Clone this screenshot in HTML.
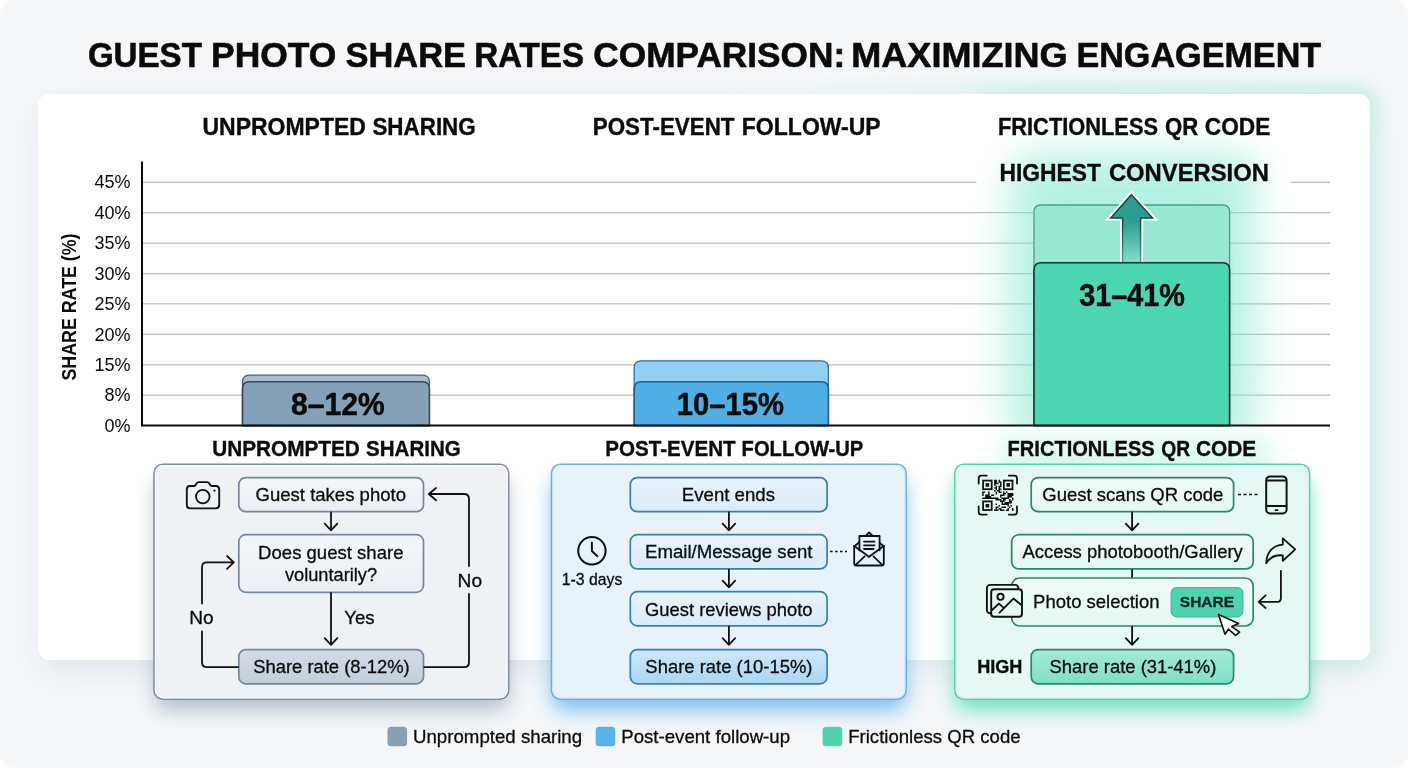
<!DOCTYPE html>
<html lang="en"><head><meta charset="utf-8"><title>Guest Photo Share Rates Comparison</title>
<style>
html,body{margin:0;padding:0;background:#f4f6f8;}
body{width:1408px;height:768px;overflow:hidden;font-family:"Liberation Sans", sans-serif;}
svg{display:block;position:absolute;left:0;top:0;will-change:transform;}
text{font-family:"Liberation Sans", sans-serif;}
</style></head><body>
<svg width="1408" height="768" viewBox="0 0 1408 768">
<defs>
<filter id="blur6" x="-20%" y="-20%" width="140%" height="140%"><feGaussianBlur stdDeviation="6"/></filter>
<filter id="blur10" x="-30%" y="-30%" width="160%" height="160%"><feGaussianBlur stdDeviation="10"/></filter>
<filter id="blur16" x="-40%" y="-40%" width="180%" height="180%"><feGaussianBlur stdDeviation="16"/></filter>
<filter id="blur24" x="-50%" y="-50%" width="200%" height="200%"><feGaussianBlur stdDeviation="24"/></filter>
<linearGradient id="gArrow" gradientUnits="userSpaceOnUse" x1="0" y1="194" x2="0" y2="262"><stop offset="0" stop-color="#2a9d8f"/><stop offset="0.4" stop-color="#2a9d8f"/><stop offset="1" stop-color="#86dcc8"/></linearGradient>
<linearGradient id="gArrowS" gradientUnits="userSpaceOnUse" x1="0" y1="194" x2="0" y2="262"><stop offset="0" stop-color="#0d3530"/><stop offset="0.45" stop-color="#114a42"/><stop offset="1" stop-color="#3f9f8d"/></linearGradient>
<linearGradient id="gTopGlow" x1="0" y1="0" x2="1" y2="0"><stop offset="0" stop-color="#a9ecd9" stop-opacity="0"/><stop offset="0.55" stop-color="#a9ecd9" stop-opacity="0.45"/><stop offset="1" stop-color="#a9ecd9" stop-opacity="0.5"/></linearGradient>
<linearGradient id="gB1" x1="0" y1="0" x2="0" y2="1"><stop offset="0" stop-color="#d3dbe5"/><stop offset="1" stop-color="#c3cdd9"/></linearGradient>
<linearGradient id="gB2" x1="0" y1="0" x2="0" y2="1"><stop offset="0" stop-color="#cfe7f8"/><stop offset="1" stop-color="#a9d6f3"/></linearGradient>
<linearGradient id="gB3" x1="0" y1="0" x2="0" y2="1"><stop offset="0" stop-color="#a5ead6"/><stop offset="1" stop-color="#7fdfc6"/></linearGradient>
<linearGradient id="gBox2" x1="0" y1="0" x2="0" y2="1"><stop offset="0" stop-color="#e9f3fc"/><stop offset="1" stop-color="#d9ebf9"/></linearGradient>
<linearGradient id="gBox3" x1="0" y1="0" x2="0" y2="1"><stop offset="0" stop-color="#f1fbf8"/><stop offset="1" stop-color="#e4f7f1"/></linearGradient>
<linearGradient id="gBox1" x1="0" y1="0" x2="0" y2="1"><stop offset="0" stop-color="#f3f6f9"/><stop offset="1" stop-color="#ebeff4"/></linearGradient>
</defs>

<rect x="0" y="0" width="1408" height="768" fill="#fdfdfe"/>
<rect x="0" y="0" width="1408" height="768" rx="15" fill="#f4f6f8"/>
<rect x="44" y="112" width="1320" height="556" rx="12" fill="#b4c2d6" opacity="0.36" filter="url(#blur16)"/>
<rect x="980" y="92" width="396" height="572" rx="14" fill="#a9ecd9" opacity="0.5" filter="url(#blur10)"/>
<rect x="700" y="88" width="672" height="40" rx="14" fill="url(#gTopGlow)" filter="url(#blur10)"/>
<rect x="38" y="94" width="1332" height="566" rx="11" fill="#ffffff"/>
<text y="67.1" font-size="35" font-weight="bold" fill="#0b0b0b" stroke="#0b0b0b" stroke-width="0.6" stroke-linejoin="round"><tspan x="87.88" textLength="114.02" lengthAdjust="spacingAndGlyphs">GUEST</tspan> <tspan x="211.1" textLength="125.34" lengthAdjust="spacingAndGlyphs">PHOTO</tspan> <tspan x="345.54" textLength="120.53" lengthAdjust="spacingAndGlyphs">SHARE</tspan> <tspan x="474.14" textLength="109.98" lengthAdjust="spacingAndGlyphs">RATES</tspan> <tspan x="593.39" textLength="251.79" lengthAdjust="spacingAndGlyphs">COMPARISON:</tspan> <tspan x="851.26" textLength="216.33" lengthAdjust="spacingAndGlyphs">MAXIMIZING</tspan> <tspan x="1076.38" textLength="244.82" lengthAdjust="spacingAndGlyphs">ENGAGEMENT</tspan></text>
<path d="M143 182.3H976.5M1291 182.3H1330" stroke="#bcbec1" stroke-width="1.25" fill="none"/>
<path d="M143 212.7H1330" stroke="#bcbec1" stroke-width="1.25" fill="none"/>
<path d="M143 243.1H1330" stroke="#bcbec1" stroke-width="1.25" fill="none"/>
<path d="M143 273.5H1330" stroke="#bcbec1" stroke-width="1.25" fill="none"/>
<path d="M143 303.9H1330" stroke="#bcbec1" stroke-width="1.25" fill="none"/>
<path d="M143 334.4H1330" stroke="#bcbec1" stroke-width="1.25" fill="none"/>
<path d="M143 364.8H1330" stroke="#bcbec1" stroke-width="1.25" fill="none"/>
<path d="M143 395.2H1330" stroke="#bcbec1" stroke-width="1.25" fill="none"/>
<clipPath id="chartclip"><rect x="143.2" y="96" width="1226" height="328.4"/></clipPath>
<g clip-path="url(#chartclip)">
<rect x="1010" y="178" width="243" height="270" rx="36" fill="#86e8cf" opacity="0.50" filter="url(#blur24)"/>
<rect x="1016" y="215" width="232" height="230" rx="16" fill="#86e8cf" opacity="0.28" filter="url(#blur16)"/>
<rect x="1012" y="150" width="244" height="60" rx="20" fill="#86e8cf" opacity="0.42" filter="url(#blur16)"/>
</g>
<text y="134.9" font-size="23" font-weight="bold" fill="#0b0b0b" stroke="#0b0b0b" stroke-width="0.35" stroke-linejoin="round"><tspan x="202.52" textLength="163.33" lengthAdjust="spacingAndGlyphs">UNPROMPTED</tspan> <tspan x="372.44" textLength="103.25" lengthAdjust="spacingAndGlyphs">SHARING</tspan></text>
<text y="134.9" font-size="23" font-weight="bold" fill="#0b0b0b" stroke="#0b0b0b" stroke-width="0.35" stroke-linejoin="round"><tspan x="592.75" textLength="141.79" lengthAdjust="spacingAndGlyphs">POST-EVENT</tspan> <tspan x="741.8" textLength="138.93" lengthAdjust="spacingAndGlyphs">FOLLOW-UP</tspan></text>
<text y="134.8" font-size="23" font-weight="bold" fill="#0b0b0b" stroke="#0b0b0b" stroke-width="0.35" stroke-linejoin="round"><tspan x="997.98" textLength="160.03" lengthAdjust="spacingAndGlyphs">FRICTIONLESS</tspan> <tspan x="1165.11" textLength="33.27" lengthAdjust="spacingAndGlyphs">QR</tspan> <tspan x="1204.79" textLength="65.55" lengthAdjust="spacingAndGlyphs">CODE</tspan></text>
<text y="181.2" font-size="24.6" font-weight="bold" fill="#0b0b0b" stroke="#0b0b0b" stroke-width="0.35" stroke-linejoin="round"><tspan x="999.42" textLength="101.42" lengthAdjust="spacingAndGlyphs">HIGHEST</tspan> <tspan x="1108.95" textLength="159.95" lengthAdjust="spacingAndGlyphs">CONVERSION</tspan></text>
<text x="130.6" y="188.4" font-size="18" font-weight="normal" text-anchor="end" fill="#0b0b0b">45%</text>
<text x="130.6" y="218.8" font-size="18" font-weight="normal" text-anchor="end" fill="#0b0b0b">40%</text>
<text x="130.6" y="249.2" font-size="18" font-weight="normal" text-anchor="end" fill="#0b0b0b">35%</text>
<text x="130.6" y="279.6" font-size="18" font-weight="normal" text-anchor="end" fill="#0b0b0b">30%</text>
<text x="130.6" y="310.0" font-size="18" font-weight="normal" text-anchor="end" fill="#0b0b0b">25%</text>
<text x="130.6" y="340.5" font-size="18" font-weight="normal" text-anchor="end" fill="#0b0b0b">20%</text>
<text x="130.6" y="370.9" font-size="18" font-weight="normal" text-anchor="end" fill="#0b0b0b">15%</text>
<text x="130.6" y="401.3" font-size="18" font-weight="normal" text-anchor="end" fill="#0b0b0b">8%</text>
<text x="130.6" y="431.7" font-size="18" font-weight="normal" text-anchor="end" fill="#0b0b0b">0%</text>
<text transform="translate(76.2 307) rotate(-90)" font-size="20.4" font-weight="bold" text-anchor="middle" textLength="147" lengthAdjust="spacingAndGlyphs" fill="#0b0b0b">SHARE RATE (%)</text>
<path d="M242.5 425.6V382.2Q242.5 375.2 249.5 375.2H422.4Q429.4 375.2 429.4 382.2V425.6Z" fill="#a9bfd1" stroke="#4a6277" stroke-width="1.3" stroke-linejoin="round"/>
<path d="M242.5 425.6V388.8Q242.5 381.8 249.5 381.8H422.4Q429.4 381.8 429.4 388.8V425.6Z" fill="#85a1b8" stroke="#324a5c" stroke-width="1.6" stroke-linejoin="round"/>
<path d="M634.2 425.6V367.8Q634.2 360.8 641.2 360.8H821.4Q828.4 360.8 828.4 367.8V425.6Z" fill="#93d0f0" stroke="#2a70a4" stroke-width="1.3" stroke-linejoin="round"/>
<path d="M634.2 425.6V388.7Q634.2 381.7 641.2 381.7H821.4Q828.4 381.7 828.4 388.7V425.6Z" fill="#50afe5" stroke="#1f5f90" stroke-width="1.6" stroke-linejoin="round"/>
<path d="M1034 425.6V212Q1034 205 1041 205H1222.6Q1229.6 205 1229.6 212V425.6Z" fill="#97e7d1" stroke="#48a08c" stroke-width="1.3" stroke-linejoin="round"/>
<path d="M1131.4 194.6L1152.6 218H1140.6V270H1122.6V218H1110.6Z" fill="#ffffff" stroke="#ffffff" stroke-width="5.2" stroke-linejoin="miter" stroke-miterlimit="6"/>
<path d="M1131.4 194.6L1152.6 218H1140.6V270H1122.6V218H1110.6Z" fill="url(#gArrow)" stroke="url(#gArrowS)" stroke-width="1.4" stroke-linejoin="miter" stroke-miterlimit="6"/>
<path d="M1034 425.6V269.7Q1034 262.7 1041 262.7H1222.6Q1229.6 262.7 1229.6 269.7V425.6Z" fill="#4dd6b2" stroke="#17342d" stroke-width="1.6" stroke-linejoin="round"/>
<text y="414.8" font-size="32" font-weight="bold" fill="#0b0b0b" stroke="#0b0b0b" stroke-width="0.5" stroke-linejoin="round"><tspan x="291.1" textLength="93.63" lengthAdjust="spacingAndGlyphs">8–12%</tspan></text>
<text y="415" font-size="32" font-weight="bold" fill="#0b0b0b" stroke="#0b0b0b" stroke-width="0.5" stroke-linejoin="round"><tspan x="676.75" textLength="107.26" lengthAdjust="spacingAndGlyphs">10–15%</tspan></text>
<text y="306" font-size="32" font-weight="bold" fill="#0b0b0b" stroke="#0b0b0b" stroke-width="0.5" stroke-linejoin="round"><tspan x="1079.22" textLength="105.57" lengthAdjust="spacingAndGlyphs">31–41%</tspan></text>
<path d="M142 161.5V425.6H1330" stroke="#0b0b0b" stroke-width="2" fill="none" stroke-linejoin="miter"/>
<rect x="1000" y="436" width="272" height="40" rx="14" fill="#8fe9d2" opacity="0.30" filter="url(#blur10)"/>
<text y="455.9" font-size="21.2" font-weight="bold" fill="#0b0b0b" stroke="#0b0b0b" stroke-width="0.35" stroke-linejoin="round"><tspan x="212.15" textLength="147.72" lengthAdjust="spacingAndGlyphs">UNPROMPTED</tspan> <tspan x="366.09" textLength="94.6" lengthAdjust="spacingAndGlyphs">SHARING</tspan></text>
<text y="455.9" font-size="21.2" font-weight="bold" fill="#0b0b0b" stroke="#0b0b0b" stroke-width="0.35" stroke-linejoin="round"><tspan x="605.36" textLength="130.26" lengthAdjust="spacingAndGlyphs">POST-EVENT</tspan> <tspan x="741.59" textLength="121.76" lengthAdjust="spacingAndGlyphs">FOLLOW-UP</tspan></text>
<text y="455.9" font-size="21.2" font-weight="bold" fill="#0b0b0b" stroke="#0b0b0b" stroke-width="0.35" stroke-linejoin="round"><tspan x="1007.6" textLength="147.15" lengthAdjust="spacingAndGlyphs">FRICTIONLESS</tspan> <tspan x="1161.23" textLength="28.9" lengthAdjust="spacingAndGlyphs">QR</tspan> <tspan x="1195.97" textLength="60.31" lengthAdjust="spacingAndGlyphs">CODE</tspan></text>
<rect x="155" y="478" width="352.7" height="232" rx="10" fill="#8a9ab0" opacity="0.6" filter="url(#blur10)"/>
<rect x="154" y="464.2" width="354.7" height="235" rx="9" fill="#eff2f5" stroke="#7f8da0" stroke-width="1.6"/>
<rect x="155.5" y="465.7" width="351.7" height="232" rx="7.6" fill="none" stroke="#f9fbfd" stroke-width="1.2" opacity="0.9"/>
<rect x="552.5" y="478" width="352.7" height="232" rx="10" fill="#64b6ee" opacity="0.85" filter="url(#blur10)"/>
<rect x="551.5" y="464.2" width="354.7" height="235" rx="9" fill="#e7f2fb" stroke="#72add8" stroke-width="1.6"/>
<rect x="553.0" y="465.7" width="351.7" height="232" rx="7.6" fill="none" stroke="#d3ecfa" stroke-width="1.2" opacity="0.9"/>
<rect x="955.8" y="478" width="352.8" height="232" rx="10" fill="#57dbb6" opacity="0.85" filter="url(#blur10)"/>
<rect x="954.8" y="464.2" width="354.8" height="235" rx="9" fill="#e6f8f3" stroke="#5ccfaf" stroke-width="1.6"/>
<rect x="956.3" y="465.7" width="351.8" height="232" rx="7.6" fill="none" stroke="#d2f6ec" stroke-width="1.2" opacity="0.9"/>
<rect x="238.8" y="477.6" width="184.7" height="34.1" rx="7" fill="url(#gBox1)" stroke="#76869b" stroke-width="1.7"/>
<rect x="238.8" y="534.7" width="184.7" height="57.6" rx="7" fill="url(#gBox1)" stroke="#76869b" stroke-width="1.7"/>
<rect x="238.8" y="649.6" width="184.7" height="34.2" rx="7" fill="url(#gB1)" stroke="#76869b" stroke-width="1.7"/>
<path d="M331 512.5V530.3M324.7 523.7L331 530.3L337.3 523.7" stroke="#111111" stroke-width="1.8" fill="none" stroke-linecap="round" stroke-linejoin="round"/>
<path d="M331 593V644.8M324.7 638.2L331 644.8L337.3 638.2" stroke="#111111" stroke-width="1.8" fill="none" stroke-linecap="round" stroke-linejoin="round"/>
<path d="M238 667.2H207Q202 667.2 202 662.2V631.5M202 603.5V567.4Q202 562.4 207 562.4H233.5M227 556L233.8 562.4L227 568.8" stroke="#111111" stroke-width="1.8" fill="none" stroke-linecap="round" stroke-linejoin="round"/>
<path d="M424.3 667.2H464Q469 667.2 469 662.2V594M469 566V499Q469 494 464 494H429M436 488L428.8 494L436 500.2" stroke="#111111" stroke-width="1.8" fill="none" stroke-linecap="round" stroke-linejoin="round"/>
<text y="500.9" font-size="19" font-weight="normal" fill="#0b0b0b" stroke="#0b0b0b" stroke-width="0.3" stroke-linejoin="round"><tspan x="255.57" textLength="150.39" lengthAdjust="spacingAndGlyphs">Guest takes photo</tspan></text>
<text y="559.2" font-size="19" font-weight="normal" fill="#0b0b0b" stroke="#0b0b0b" stroke-width="0.3" stroke-linejoin="round"><tspan x="258.12" textLength="145.35" lengthAdjust="spacingAndGlyphs">Does guest share</tspan></text>
<text y="581.4" font-size="19" font-weight="normal" fill="#0b0b0b" stroke="#0b0b0b" stroke-width="0.3" stroke-linejoin="round"><tspan x="284.9" textLength="92.16" lengthAdjust="spacingAndGlyphs">voluntarily?</tspan></text>
<text y="673" font-size="19" font-weight="normal" fill="#0b0b0b" stroke="#0b0b0b" stroke-width="0.3" stroke-linejoin="round"><tspan x="253.17" textLength="156.5" lengthAdjust="spacingAndGlyphs">Share rate (8-12%)</tspan></text>
<text y="624.2" font-size="19" font-weight="normal" fill="#0b0b0b" stroke="#0b0b0b" stroke-width="0.3" stroke-linejoin="round"><tspan x="344.23" textLength="30.43" lengthAdjust="spacingAndGlyphs">Yes</tspan></text>
<text y="624.2" font-size="19" font-weight="normal" fill="#0b0b0b" stroke="#0b0b0b" stroke-width="0.3" stroke-linejoin="round"><tspan x="189.17" textLength="24.41" lengthAdjust="spacingAndGlyphs">No</tspan></text>
<text y="586.5" font-size="19" font-weight="normal" fill="#0b0b0b" stroke="#0b0b0b" stroke-width="0.3" stroke-linejoin="round"><tspan x="457.57" textLength="24.52" lengthAdjust="spacingAndGlyphs">No</tspan></text>
<g stroke="#111111" stroke-width="1.85" fill="none" stroke-linejoin="round" stroke-linecap="round"><path d="M190.2 486H193.8Q195.2 486 195.8 484.7L196.6 483.3Q197.2 482.1 198.8 482.1H207Q208.6 482.1 209.2 483.3L210 484.7Q210.6 486 212 486H215.8Q219.2 486 219.2 489.4V504.9Q219.2 508.3 215.8 508.3H190.2Q186.8 508.3 186.8 504.9V489.4Q186.8 486 190.2 486Z"/><circle cx="202.8" cy="496.6" r="6.8"/></g>
<circle cx="214.5" cy="490.6" r="1.15" fill="#111111"/>
<rect x="630.3" y="477.6" width="196.8" height="34.1" rx="7" fill="url(#gBox2)" stroke="#357fb6" stroke-width="1.7"/>
<rect x="630.3" y="534.7" width="196.8" height="34.2" rx="7" fill="url(#gBox2)" stroke="#357fb6" stroke-width="1.7"/>
<rect x="630.3" y="591.7" width="196.8" height="34.1" rx="7" fill="url(#gBox2)" stroke="#357fb6" stroke-width="1.7"/>
<rect x="630.3" y="649.6" width="196.8" height="34.2" rx="7" fill="url(#gB2)" stroke="#357fb6" stroke-width="1.7"/>
<path d="M728.9 512.5V530.3M722.6 523.7L728.9 530.3L735.1999999999999 523.7" stroke="#111111" stroke-width="1.8" fill="none" stroke-linecap="round" stroke-linejoin="round"/>
<path d="M728.9 569.7V587.3M722.6 580.7L728.9 587.3L735.1999999999999 580.7" stroke="#111111" stroke-width="1.8" fill="none" stroke-linecap="round" stroke-linejoin="round"/>
<path d="M728.9 626.6V644.8M722.6 638.2L728.9 644.8L735.1999999999999 638.2" stroke="#111111" stroke-width="1.8" fill="none" stroke-linecap="round" stroke-linejoin="round"/>
<text y="500.8" font-size="19" font-weight="normal" fill="#0b0b0b" stroke="#0b0b0b" stroke-width="0.3" stroke-linejoin="round"><tspan x="681.81" textLength="93.24" lengthAdjust="spacingAndGlyphs">Event ends</tspan></text>
<text y="557.8" font-size="19" font-weight="normal" fill="#0b0b0b" stroke="#0b0b0b" stroke-width="0.3" stroke-linejoin="round"><tspan x="645.01" textLength="167.54" lengthAdjust="spacingAndGlyphs">Email/Message sent</tspan></text>
<text y="615.6" font-size="19" font-weight="normal" fill="#0b0b0b" stroke="#0b0b0b" stroke-width="0.3" stroke-linejoin="round"><tspan x="645.08" textLength="167.47" lengthAdjust="spacingAndGlyphs">Guest reviews photo</tspan></text>
<text y="673" font-size="19" font-weight="normal" fill="#0b0b0b" stroke="#0b0b0b" stroke-width="0.3" stroke-linejoin="round"><tspan x="645.37" textLength="167.1" lengthAdjust="spacingAndGlyphs">Share rate (10-15%)</tspan></text>
<g stroke="#111111" stroke-width="2" fill="none" stroke-linecap="round" stroke-linejoin="round"><circle cx="591.9" cy="550.8" r="13.7"/><path d="M591.9 542.8V551L597.4 556.3"/></g>
<text y="584.8" font-size="16.3" font-weight="normal" fill="#0b0b0b" stroke="#0b0b0b" stroke-width="0.3" stroke-linejoin="round"><tspan x="561.71" textLength="60.64" lengthAdjust="spacingAndGlyphs">1-3 days</tspan></text>
<path d="M830 551.4H847" stroke="#111111" stroke-width="1.5" stroke-dasharray="2.6 2.4" fill="none"/>
<g stroke="#111111" stroke-width="1.8" fill="none" stroke-linejoin="round" stroke-linecap="round"><path d="M854.2 546.5L859.4 542M883.8 546.5L879.6 542.7M865.8 535.6L869.1 532.5L872.4 535.6"/><path d="M854.2 546V563.6Q854.2 565.5 856.1 565.5H881.9Q883.8 565.5 883.8 563.6V546"/><path d="M859.4 550.3V536H879.6V550.3"/><path d="M854.2 546L869 556.8L883.8 546"/><path d="M855.8 564.8L864.6 556.4M882.2 564.8L873.5 556.4"/><path d="M864 541.6H874.6M864 545.3H874.6M864 549H873.6"/></g>
<rect x="1031.2" y="477.6" width="202.4" height="34.1" rx="7" fill="url(#gBox3)" stroke="#2a8572" stroke-width="1.7"/>
<rect x="1011.7" y="534.7" width="241.5" height="34.2" rx="7" fill="url(#gBox3)" stroke="#2a8572" stroke-width="1.7"/>
<path d="M1132.1 569.6V578" stroke="#111111" stroke-width="1.8"/>
<rect x="1011.7" y="578" width="241.5" height="48" rx="8" fill="url(#gBox3)" stroke="#2a8572" stroke-width="1.7"/>
<rect x="1031.2" y="649.6" width="202.4" height="34.2" rx="7" fill="url(#gB3)" stroke="#2a8572" stroke-width="1.7"/>
<path d="M1132.1 512.5V530.3M1125.8 523.7L1132.1 530.3L1138.3999999999999 523.7" stroke="#111111" stroke-width="1.8" fill="none" stroke-linecap="round" stroke-linejoin="round"/>
<path d="M1132.1 626.8V644.8M1125.8 638.2L1132.1 644.8L1138.3999999999999 638.2" stroke="#111111" stroke-width="1.8" fill="none" stroke-linecap="round" stroke-linejoin="round"/>
<text y="500.8" font-size="19" font-weight="normal" fill="#0b0b0b" stroke="#0b0b0b" stroke-width="0.3" stroke-linejoin="round"><tspan x="1042.37" textLength="180.99" lengthAdjust="spacingAndGlyphs">Guest scans QR code</tspan></text>
<text y="557.8" font-size="19" font-weight="normal" fill="#0b0b0b" stroke="#0b0b0b" stroke-width="0.3" stroke-linejoin="round"><tspan x="1022.4" textLength="220.4" lengthAdjust="spacingAndGlyphs">Access photobooth/Gallery</tspan></text>
<text y="608.1" font-size="19" font-weight="normal" fill="#0b0b0b" stroke="#0b0b0b" stroke-width="0.3" stroke-linejoin="round"><tspan x="1033.12" textLength="126.41" lengthAdjust="spacingAndGlyphs">Photo selection</tspan></text>
<text y="673" font-size="19" font-weight="normal" fill="#0b0b0b" stroke="#0b0b0b" stroke-width="0.3" stroke-linejoin="round"><tspan x="1049.57" textLength="166.8" lengthAdjust="spacingAndGlyphs">Share rate (31-41%)</tspan></text>
<text y="673" font-size="18.2" font-weight="bold" fill="#0b0b0b" stroke="#0b0b0b" stroke-width="0.35" stroke-linejoin="round"><tspan x="977.23" textLength="45.19" lengthAdjust="spacingAndGlyphs">HIGH</tspan></text>
<rect x="1171.2" y="587.6" width="71.6" height="29.2" rx="5.5" fill="#4fd3b0" stroke="#3cba99" stroke-width="1.2"/>
<text y="607.4" font-size="15.2" font-weight="bold" fill="#082720" stroke="#082720" stroke-width="0.35" stroke-linejoin="round"><tspan x="1179.81" textLength="54.36" lengthAdjust="spacingAndGlyphs">SHARE</tspan></text>
<path d="M1218.5 614.4L1238.6 623.6L1231.8 626.6L1239.6 632.2L1235.6 635.4L1228.4 629.2L1225 634.2Z" fill="#ffffff" stroke="#111111" stroke-width="1.6" stroke-linejoin="round"/>
<path d="M1238 494.6H1258" stroke="#111111" stroke-width="1.5" stroke-dasharray="3 2.5" stroke-linecap="butt" fill="none"/>
<g stroke="#111111" stroke-width="2" fill="none" stroke-linejoin="round"><rect x="1266.2" y="476.4" width="20.4" height="37" rx="4"/><path d="M1266.2 480.6H1286.6M1266.2 506H1286.6"/></g>
<rect x="1274.6" y="509.3" width="3.8" height="1.8" rx="0.9" fill="#111111"/>
<path d="M1266.2 563.3C1266.6 552 1273 545.3 1282.8 544.6V538.4L1295.2 549.4L1282.8 560.8V555.4C1275.5 554.6 1270 557.2 1266.2 563.3Z" fill="none" stroke="#111111" stroke-width="1.8" stroke-linejoin="round"/>
<path d="M1280.9 570.8V597.9Q1280.9 601.9 1276.9 601.9H1259M1265.6 595.4L1258.7 601.9L1265.6 608" stroke="#111111" stroke-width="1.8" fill="none" stroke-linecap="round" stroke-linejoin="round"/>
<g stroke="#111111" stroke-width="1.9" fill="none" stroke-linejoin="round" stroke-linecap="round"><rect x="986.9" y="584.9" width="31.4" height="28.4" rx="3.2" fill="#e8f8f3"/><rect x="991.2" y="589.2" width="30.8" height="27.6" rx="3" fill="#e9f8f3"/><circle cx="1000.5" cy="596.8" r="3.1"/><path d="M992 610L998.9 603.6L1002.9 607.1M999.5 612.6L1013.4 598.6L1021.8 605.3"/></g>
<g stroke="#111111" stroke-width="1.8" fill="none" stroke-linecap="round" stroke-linejoin="round"><path d="M978.7 483.5V478.2Q978.7 475.6 981.3 475.6H986.8M1008.8 475.6H1014.4Q1017 475.6 1017 478.2V483.5M1017 506.5V512Q1017 514.6 1014.4 514.6H1008.8M986.8 514.6H981.3Q978.7 514.6 978.7 512V506.5"/></g>
<rect x="983.09" y="480.59" width="8.62" height="8.62" fill="none" stroke="#111111" stroke-width="1.78"/>
<rect x="985.62" y="483.12" width="3.57" height="3.57" fill="#111111"/>
<rect x="1003.89" y="480.59" width="8.62" height="8.62" fill="none" stroke="#111111" stroke-width="1.78"/>
<rect x="1006.42" y="483.12" width="3.57" height="3.57" fill="#111111"/>
<rect x="983.09" y="501.39" width="8.62" height="8.62" fill="none" stroke="#111111" stroke-width="1.78"/>
<rect x="985.62" y="503.92" width="3.57" height="3.57" fill="#111111"/>
<path d="M994.09 479.7h1.49v1.49h-1.49zM995.57 479.7h1.49v1.49h-1.49zM998.54 479.7h1.49v1.49h-1.49zM994.09 481.19h1.49v1.49h-1.49zM995.57 481.19h1.49v1.49h-1.49zM998.54 481.19h1.49v1.49h-1.49zM1000.03 481.19h1.49v1.49h-1.49zM994.09 482.67h1.49v1.49h-1.49zM995.57 482.67h1.49v1.49h-1.49zM997.06 482.67h1.49v1.49h-1.49zM1000.03 482.67h1.49v1.49h-1.49zM994.09 484.16h1.49v1.49h-1.49zM1000.03 484.16h1.49v1.49h-1.49zM995.57 485.64h1.49v1.49h-1.49zM998.54 485.64h1.49v1.49h-1.49zM1000.03 485.64h1.49v1.49h-1.49zM994.09 487.13h1.49v1.49h-1.49zM995.57 487.13h1.49v1.49h-1.49zM998.54 487.13h1.49v1.49h-1.49zM995.57 488.61h1.49v1.49h-1.49zM998.54 488.61h1.49v1.49h-1.49zM1000.03 488.61h1.49v1.49h-1.49zM994.09 490.1h1.49v1.49h-1.49zM997.06 490.1h1.49v1.49h-1.49zM998.54 490.1h1.49v1.49h-1.49zM982.2 491.59h1.49v1.49h-1.49zM983.69 491.59h1.49v1.49h-1.49zM988.14 491.59h1.49v1.49h-1.49zM995.57 491.59h1.49v1.49h-1.49zM998.54 491.59h1.49v1.49h-1.49zM1000.03 491.59h1.49v1.49h-1.49zM1003.0 491.59h1.49v1.49h-1.49zM1005.97 491.59h1.49v1.49h-1.49zM982.2 493.07h1.49v1.49h-1.49zM988.14 493.07h1.49v1.49h-1.49zM995.57 493.07h1.49v1.49h-1.49zM1003.0 493.07h1.49v1.49h-1.49zM1004.49 493.07h1.49v1.49h-1.49zM1007.46 493.07h1.49v1.49h-1.49zM1008.94 493.07h1.49v1.49h-1.49zM1010.43 493.07h1.49v1.49h-1.49zM1011.91 493.07h1.49v1.49h-1.49zM982.2 494.56h1.49v1.49h-1.49zM985.17 494.56h1.49v1.49h-1.49zM986.66 494.56h1.49v1.49h-1.49zM988.14 494.56h1.49v1.49h-1.49zM991.11 494.56h1.49v1.49h-1.49zM992.6 494.56h1.49v1.49h-1.49zM1000.03 494.56h1.49v1.49h-1.49zM1001.51 494.56h1.49v1.49h-1.49zM1003.0 494.56h1.49v1.49h-1.49zM1007.46 494.56h1.49v1.49h-1.49zM1008.94 494.56h1.49v1.49h-1.49zM1010.43 494.56h1.49v1.49h-1.49zM1011.91 494.56h1.49v1.49h-1.49zM985.17 496.04h1.49v1.49h-1.49zM986.66 496.04h1.49v1.49h-1.49zM988.14 496.04h1.49v1.49h-1.49zM989.63 496.04h1.49v1.49h-1.49zM1000.03 496.04h1.49v1.49h-1.49zM1007.46 496.04h1.49v1.49h-1.49zM1008.94 496.04h1.49v1.49h-1.49zM1010.43 496.04h1.49v1.49h-1.49zM982.2 497.53h1.49v1.49h-1.49zM983.69 497.53h1.49v1.49h-1.49zM985.17 497.53h1.49v1.49h-1.49zM986.66 497.53h1.49v1.49h-1.49zM988.14 497.53h1.49v1.49h-1.49zM989.63 497.53h1.49v1.49h-1.49zM991.11 497.53h1.49v1.49h-1.49zM992.6 497.53h1.49v1.49h-1.49zM994.09 497.53h1.49v1.49h-1.49zM995.57 497.53h1.49v1.49h-1.49zM997.06 497.53h1.49v1.49h-1.49zM1001.51 497.53h1.49v1.49h-1.49zM1003.0 497.53h1.49v1.49h-1.49zM1004.49 497.53h1.49v1.49h-1.49zM1005.97 497.53h1.49v1.49h-1.49zM1007.46 497.53h1.49v1.49h-1.49zM1011.91 497.53h1.49v1.49h-1.49zM995.57 499.01h1.49v1.49h-1.49zM997.06 499.01h1.49v1.49h-1.49zM998.54 499.01h1.49v1.49h-1.49zM1000.03 499.01h1.49v1.49h-1.49zM1003.0 499.01h1.49v1.49h-1.49zM1004.49 499.01h1.49v1.49h-1.49zM1008.94 499.01h1.49v1.49h-1.49zM1011.91 499.01h1.49v1.49h-1.49zM1000.03 500.5h1.49v1.49h-1.49zM1001.51 500.5h1.49v1.49h-1.49zM1003.0 500.5h1.49v1.49h-1.49zM1008.94 500.5h1.49v1.49h-1.49zM1010.43 500.5h1.49v1.49h-1.49zM1001.51 501.99h1.49v1.49h-1.49zM1004.49 501.99h1.49v1.49h-1.49zM1005.97 501.99h1.49v1.49h-1.49zM1007.46 501.99h1.49v1.49h-1.49zM1008.94 501.99h1.49v1.49h-1.49zM1010.43 501.99h1.49v1.49h-1.49zM995.57 503.47h1.49v1.49h-1.49zM1001.51 503.47h1.49v1.49h-1.49zM1003.0 503.47h1.49v1.49h-1.49zM1004.49 503.47h1.49v1.49h-1.49zM1005.97 503.47h1.49v1.49h-1.49zM1007.46 503.47h1.49v1.49h-1.49zM998.54 504.96h1.49v1.49h-1.49zM1007.46 504.96h1.49v1.49h-1.49zM1010.43 504.96h1.49v1.49h-1.49zM995.57 506.44h1.49v1.49h-1.49zM997.06 506.44h1.49v1.49h-1.49zM1001.51 506.44h1.49v1.49h-1.49zM1003.0 506.44h1.49v1.49h-1.49zM1004.49 506.44h1.49v1.49h-1.49zM1008.94 506.44h1.49v1.49h-1.49zM995.57 507.93h1.49v1.49h-1.49zM998.54 507.93h1.49v1.49h-1.49zM1000.03 507.93h1.49v1.49h-1.49zM1007.46 507.93h1.49v1.49h-1.49zM1011.91 507.93h1.49v1.49h-1.49zM994.09 509.41h1.49v1.49h-1.49zM995.57 509.41h1.49v1.49h-1.49zM997.06 509.41h1.49v1.49h-1.49zM1000.03 509.41h1.49v1.49h-1.49zM1001.51 509.41h1.49v1.49h-1.49zM1003.0 509.41h1.49v1.49h-1.49zM1005.97 509.41h1.49v1.49h-1.49zM1007.46 509.41h1.49v1.49h-1.49zM1011.91 509.41h1.49v1.49h-1.49z" fill="#111111"/>
<rect x="387.5" y="726.8" width="19.6" height="19.4" rx="3.5" fill="#8a9eb4"/>
<text y="743.4" font-size="19" font-weight="normal" fill="#0b0b0b" stroke="#0b0b0b" stroke-width="0.3" stroke-linejoin="round"><tspan x="413.0" textLength="169.14" lengthAdjust="spacingAndGlyphs">Unprompted sharing</tspan></text>
<rect x="595.7" y="726.8" width="19.6" height="19.4" rx="3.5" fill="#5ab3e6"/>
<text y="743.4" font-size="19" font-weight="normal" fill="#0b0b0b" stroke="#0b0b0b" stroke-width="0.3" stroke-linejoin="round"><tspan x="621.21" textLength="168.86" lengthAdjust="spacingAndGlyphs">Post-event follow-up</tspan></text>
<rect x="822.6" y="726.8" width="19.6" height="19.4" rx="3.5" fill="#4fd3b0"/>
<text y="743.4" font-size="19" font-weight="normal" fill="#0b0b0b" stroke="#0b0b0b" stroke-width="0.3" stroke-linejoin="round"><tspan x="848.21" textLength="172.35" lengthAdjust="spacingAndGlyphs">Frictionless QR code</tspan></text>
</svg>
</body></html>
